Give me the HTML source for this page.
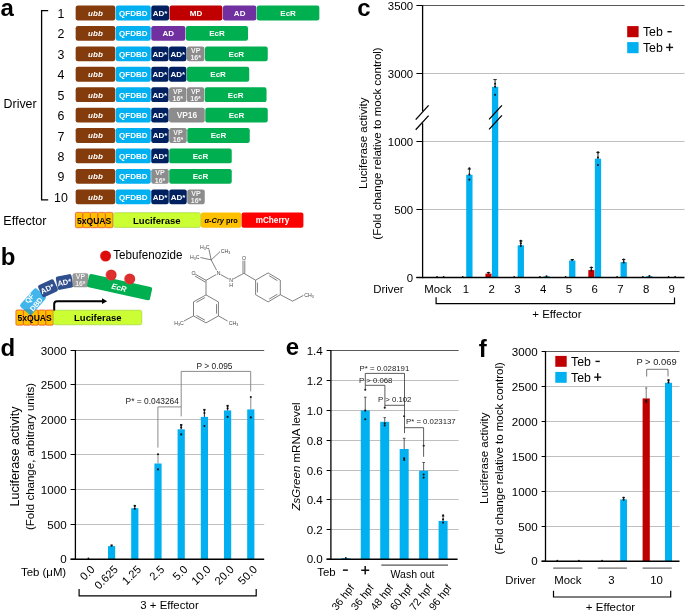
<!DOCTYPE html>
<html><head><meta charset="utf-8"><style>
html,body{margin:0;padding:0;background:#fff;}
svg{display:block;will-change:transform;}
text{font-family:"Liberation Sans", sans-serif;}
</style></head><body>
<svg width="685" height="612" viewBox="0 0 685 612">
<defs><radialGradient id="ballg" cx="0.58" cy="0.5" r="0.6"><stop offset="0" stop-color="#e00a0a"/><stop offset="0.75" stop-color="#dc0c0c"/><stop offset="0.9" stop-color="#e84040"/><stop offset="1" stop-color="#c81818"/></radialGradient><radialGradient id="ballg2" cx="0.58" cy="0.5" r="0.6"><stop offset="0" stop-color="#e03030"/><stop offset="0.75" stop-color="#dc2c2c"/><stop offset="0.9" stop-color="#ea5555"/><stop offset="1" stop-color="#c82020"/></radialGradient></defs>
<rect width="685" height="612" fill="#fff"/>
<text x="0.5" y="16.2" font-size="24" font-weight="bold">a</text>
<path d="M48.2,10.6 H41.6 V199.8 H48.2" stroke="#000" stroke-width="1.3" fill="none"/>
<text x="3.6" y="108.3" font-size="12.4">Driver</text>
<text x="3.3" y="225.2" font-size="12.6">Effector</text>
<text x="61" y="18" font-size="12.4" text-anchor="middle">1</text>
<rect x="75.65" y="5.6" width="39.6" height="14.8" fill="#843C0C" rx="2.2"/>
<text x="95.45" y="15.88" font-size="8" text-anchor="middle" font-weight="bold" font-style="italic" fill="#fff">ubb</text>
<rect x="115.75" y="5.6" width="35" height="14.8" fill="#00B0F0" rx="2.2"/>
<text x="133.25" y="15.88" font-size="8" text-anchor="middle" font-weight="bold" fill="#fff">QFDBD</text>
<rect x="151.25" y="5.6" width="17.8" height="14.8" fill="#002060" rx="2.2"/>
<text x="160.15" y="15.88" font-size="8" text-anchor="middle" font-weight="bold" fill="#fff">AD*</text>
<rect x="169.55" y="5.6" width="52.9" height="14.8" fill="#C00000" rx="2.2"/>
<text x="196" y="15.88" font-size="8" text-anchor="middle" font-weight="bold" fill="#fff">MD</text>
<rect x="222.95" y="5.6" width="33.4" height="14.8" fill="#7030A0" rx="2.2"/>
<text x="239.65" y="15.88" font-size="8" text-anchor="middle" font-weight="bold" fill="#fff">AD</text>
<rect x="256.85" y="5.6" width="62.5" height="14.8" fill="#00B050" rx="2.2"/>
<text x="288.1" y="15.88" font-size="8" text-anchor="middle" font-weight="bold" fill="#fff">EcR</text>
<text x="61" y="38.42" font-size="12.4" text-anchor="middle">2</text>
<rect x="75.65" y="26.02" width="39.6" height="14.8" fill="#843C0C" rx="2.2"/>
<text x="95.45" y="36.3" font-size="8" text-anchor="middle" font-weight="bold" font-style="italic" fill="#fff">ubb</text>
<rect x="115.75" y="26.02" width="35" height="14.8" fill="#00B0F0" rx="2.2"/>
<text x="133.25" y="36.3" font-size="8" text-anchor="middle" font-weight="bold" fill="#fff">QFDBD</text>
<rect x="151.25" y="26.02" width="34.1" height="14.8" fill="#7030A0" rx="2.2"/>
<text x="168.3" y="36.3" font-size="8" text-anchor="middle" font-weight="bold" fill="#fff">AD</text>
<rect x="185.85" y="26.02" width="62.2" height="14.8" fill="#00B050" rx="2.2"/>
<text x="216.95" y="36.3" font-size="8" text-anchor="middle" font-weight="bold" fill="#fff">EcR</text>
<text x="61" y="58.84" font-size="12.4" text-anchor="middle">3</text>
<rect x="75.65" y="46.44" width="39.6" height="14.8" fill="#843C0C" rx="2.2"/>
<text x="95.45" y="56.72" font-size="8" text-anchor="middle" font-weight="bold" font-style="italic" fill="#fff">ubb</text>
<rect x="115.75" y="46.44" width="35" height="14.8" fill="#00B0F0" rx="2.2"/>
<text x="133.25" y="56.72" font-size="8" text-anchor="middle" font-weight="bold" fill="#fff">QFDBD</text>
<rect x="151.25" y="46.44" width="17.3" height="14.8" fill="#002060" rx="2.2"/>
<text x="159.9" y="56.72" font-size="8" text-anchor="middle" font-weight="bold" fill="#fff">AD*</text>
<rect x="169.05" y="46.44" width="17.4" height="14.8" fill="#002060" rx="2.2"/>
<text x="177.75" y="56.72" font-size="8" text-anchor="middle" font-weight="bold" fill="#fff">AD*</text>
<rect x="186.95" y="46.44" width="17.5" height="14.8" fill="#8C8C8C" rx="2.2"/>
<text x="195.7" y="52.94" font-size="7" text-anchor="middle" font-weight="bold" fill="#f4f4f4">VP</text>
<text x="195.7" y="60.04" font-size="7" text-anchor="middle" font-weight="bold" fill="#f4f4f4">16*</text>
<rect x="204.95" y="46.44" width="62.8" height="14.8" fill="#00B050" rx="2.2"/>
<text x="236.35" y="56.72" font-size="8" text-anchor="middle" font-weight="bold" fill="#fff">EcR</text>
<text x="61" y="79.26" font-size="12.4" text-anchor="middle">4</text>
<rect x="75.65" y="66.86" width="39.6" height="14.8" fill="#843C0C" rx="2.2"/>
<text x="95.45" y="77.14" font-size="8" text-anchor="middle" font-weight="bold" font-style="italic" fill="#fff">ubb</text>
<rect x="115.75" y="66.86" width="35" height="14.8" fill="#00B0F0" rx="2.2"/>
<text x="133.25" y="77.14" font-size="8" text-anchor="middle" font-weight="bold" fill="#fff">QFDBD</text>
<rect x="151.25" y="66.86" width="17.3" height="14.8" fill="#002060" rx="2.2"/>
<text x="159.9" y="77.14" font-size="8" text-anchor="middle" font-weight="bold" fill="#fff">AD*</text>
<rect x="169.05" y="66.86" width="17.4" height="14.8" fill="#002060" rx="2.2"/>
<text x="177.75" y="77.14" font-size="8" text-anchor="middle" font-weight="bold" fill="#fff">AD*</text>
<rect x="186.95" y="66.86" width="62.3" height="14.8" fill="#00B050" rx="2.2"/>
<text x="218.1" y="77.14" font-size="8" text-anchor="middle" font-weight="bold" fill="#fff">EcR</text>
<text x="61" y="99.68" font-size="12.4" text-anchor="middle">5</text>
<rect x="75.65" y="87.28" width="39.6" height="14.8" fill="#843C0C" rx="2.2"/>
<text x="95.45" y="97.56" font-size="8" text-anchor="middle" font-weight="bold" font-style="italic" fill="#fff">ubb</text>
<rect x="115.75" y="87.28" width="35" height="14.8" fill="#00B0F0" rx="2.2"/>
<text x="133.25" y="97.56" font-size="8" text-anchor="middle" font-weight="bold" fill="#fff">QFDBD</text>
<rect x="151.25" y="87.28" width="17.3" height="14.8" fill="#002060" rx="2.2"/>
<text x="159.9" y="97.56" font-size="8" text-anchor="middle" font-weight="bold" fill="#fff">AD*</text>
<rect x="169.05" y="87.28" width="17.4" height="14.8" fill="#8C8C8C" rx="2.2"/>
<text x="177.75" y="93.78" font-size="7" text-anchor="middle" font-weight="bold" fill="#f4f4f4">VP</text>
<text x="177.75" y="100.88" font-size="7" text-anchor="middle" font-weight="bold" fill="#f4f4f4">16*</text>
<rect x="186.95" y="87.28" width="17.3" height="14.8" fill="#8C8C8C" rx="2.2"/>
<text x="195.6" y="93.78" font-size="7" text-anchor="middle" font-weight="bold" fill="#f4f4f4">VP</text>
<text x="195.6" y="100.88" font-size="7" text-anchor="middle" font-weight="bold" fill="#f4f4f4">16*</text>
<rect x="204.75" y="87.28" width="61.8" height="14.8" fill="#00B050" rx="2.2"/>
<text x="235.65" y="97.56" font-size="8" text-anchor="middle" font-weight="bold" fill="#fff">EcR</text>
<text x="61" y="120.1" font-size="12.4" text-anchor="middle">6</text>
<rect x="75.65" y="107.7" width="39.6" height="14.8" fill="#843C0C" rx="2.2"/>
<text x="95.45" y="117.98" font-size="8" text-anchor="middle" font-weight="bold" font-style="italic" fill="#fff">ubb</text>
<rect x="115.75" y="107.7" width="35" height="14.8" fill="#00B0F0" rx="2.2"/>
<text x="133.25" y="117.98" font-size="8" text-anchor="middle" font-weight="bold" fill="#fff">QFDBD</text>
<rect x="151.25" y="107.7" width="17.3" height="14.8" fill="#002060" rx="2.2"/>
<text x="159.9" y="117.98" font-size="8" text-anchor="middle" font-weight="bold" fill="#fff">AD*</text>
<rect x="169.05" y="107.7" width="35.7" height="14.8" fill="#8C8C8C" rx="2.2"/>
<text x="186.9" y="118.12" font-size="8.4" text-anchor="middle" font-weight="bold" fill="#f8f8f8">VP16</text>
<rect x="205.25" y="107.7" width="62.5" height="14.8" fill="#00B050" rx="2.2"/>
<text x="236.5" y="117.98" font-size="8" text-anchor="middle" font-weight="bold" fill="#fff">EcR</text>
<text x="61" y="140.52" font-size="12.4" text-anchor="middle">7</text>
<rect x="75.65" y="128.12" width="39.6" height="14.8" fill="#843C0C" rx="2.2"/>
<text x="95.45" y="138.4" font-size="8" text-anchor="middle" font-weight="bold" font-style="italic" fill="#fff">ubb</text>
<rect x="115.75" y="128.12" width="35" height="14.8" fill="#00B0F0" rx="2.2"/>
<text x="133.25" y="138.4" font-size="8" text-anchor="middle" font-weight="bold" fill="#fff">QFDBD</text>
<rect x="151.25" y="128.12" width="17.5" height="14.8" fill="#002060" rx="2.2"/>
<text x="160" y="138.4" font-size="8" text-anchor="middle" font-weight="bold" fill="#fff">AD*</text>
<rect x="169.25" y="128.12" width="17.5" height="14.8" fill="#8C8C8C" rx="2.2"/>
<text x="178" y="134.62" font-size="7" text-anchor="middle" font-weight="bold" fill="#f4f4f4">VP</text>
<text x="178" y="141.72" font-size="7" text-anchor="middle" font-weight="bold" fill="#f4f4f4">16*</text>
<rect x="187.25" y="128.12" width="62.5" height="14.8" fill="#00B050" rx="2.2"/>
<text x="218.5" y="138.4" font-size="8" text-anchor="middle" font-weight="bold" fill="#fff">EcR</text>
<text x="61" y="160.94" font-size="12.4" text-anchor="middle">8</text>
<rect x="75.65" y="148.54" width="39.6" height="14.8" fill="#843C0C" rx="2.2"/>
<text x="95.45" y="158.82" font-size="8" text-anchor="middle" font-weight="bold" font-style="italic" fill="#fff">ubb</text>
<rect x="115.75" y="148.54" width="35" height="14.8" fill="#00B0F0" rx="2.2"/>
<text x="133.25" y="158.82" font-size="8" text-anchor="middle" font-weight="bold" fill="#fff">QFDBD</text>
<rect x="151.25" y="148.54" width="17.5" height="14.8" fill="#002060" rx="2.2"/>
<text x="160" y="158.82" font-size="8" text-anchor="middle" font-weight="bold" fill="#fff">AD*</text>
<rect x="169.25" y="148.54" width="62.5" height="14.8" fill="#00B050" rx="2.2"/>
<text x="200.5" y="158.82" font-size="8" text-anchor="middle" font-weight="bold" fill="#fff">EcR</text>
<text x="61" y="181.36" font-size="12.4" text-anchor="middle">9</text>
<rect x="75.65" y="168.96" width="39.6" height="14.8" fill="#843C0C" rx="2.2"/>
<text x="95.45" y="179.24" font-size="8" text-anchor="middle" font-weight="bold" font-style="italic" fill="#fff">ubb</text>
<rect x="115.75" y="168.96" width="35" height="14.8" fill="#00B0F0" rx="2.2"/>
<text x="133.25" y="179.24" font-size="8" text-anchor="middle" font-weight="bold" fill="#fff">QFDBD</text>
<rect x="151.25" y="168.96" width="17.5" height="14.8" fill="#8C8C8C" rx="2.2"/>
<text x="160" y="175.46" font-size="7" text-anchor="middle" font-weight="bold" fill="#f4f4f4">VP</text>
<text x="160" y="182.56" font-size="7" text-anchor="middle" font-weight="bold" fill="#f4f4f4">16*</text>
<rect x="169.25" y="168.96" width="62.5" height="14.8" fill="#00B050" rx="2.2"/>
<text x="200.5" y="179.24" font-size="8" text-anchor="middle" font-weight="bold" fill="#fff">EcR</text>
<text x="61" y="201.78" font-size="12.4" text-anchor="middle">10</text>
<rect x="75.65" y="189.38" width="39.6" height="14.8" fill="#843C0C" rx="2.2"/>
<text x="95.45" y="199.66" font-size="8" text-anchor="middle" font-weight="bold" font-style="italic" fill="#fff">ubb</text>
<rect x="115.75" y="189.38" width="35" height="14.8" fill="#00B0F0" rx="2.2"/>
<text x="133.25" y="199.66" font-size="8" text-anchor="middle" font-weight="bold" fill="#fff">QFDBD</text>
<rect x="151.25" y="189.38" width="17.5" height="14.8" fill="#002060" rx="2.2"/>
<text x="160" y="199.66" font-size="8" text-anchor="middle" font-weight="bold" fill="#fff">AD*</text>
<rect x="169.25" y="189.38" width="17.5" height="14.8" fill="#002060" rx="2.2"/>
<text x="178" y="199.66" font-size="8" text-anchor="middle" font-weight="bold" fill="#fff">AD*</text>
<rect x="187.25" y="189.38" width="17.5" height="14.8" fill="#8C8C8C" rx="2.2"/>
<text x="196" y="195.88" font-size="7" text-anchor="middle" font-weight="bold" fill="#f4f4f4">VP</text>
<text x="196" y="202.98" font-size="7" text-anchor="middle" font-weight="bold" fill="#f4f4f4">16*</text>
<rect x="75.4" y="212.4" width="7.5" height="15.3" fill="#FFC000" rx="1.2" stroke="#E4472F" stroke-width="0.7"/>
<rect x="82.9" y="212.4" width="7.5" height="15.3" fill="#FFC000" rx="1.2" stroke="#E4472F" stroke-width="0.7"/>
<rect x="90.4" y="212.4" width="7.5" height="15.3" fill="#FFC000" rx="1.2" stroke="#E4472F" stroke-width="0.7"/>
<rect x="97.9" y="212.4" width="7.5" height="15.3" fill="#FFC000" rx="1.2" stroke="#E4472F" stroke-width="0.7"/>
<rect x="105.4" y="212.4" width="7.5" height="15.3" fill="#FFC000" rx="1.2" stroke="#E4472F" stroke-width="0.7"/>
<text x="94.1" y="223.8" font-size="8.6" text-anchor="middle" font-weight="bold">5xQUAS</text>
<rect x="113.4" y="212.7" width="87.2" height="14.7" fill="#CCFF33" rx="2" stroke="#9ACD32" stroke-width="0.6"/>
<text x="156.8" y="223.7" font-size="9.5" text-anchor="middle" font-weight="bold">Luciferase</text>
<rect x="201" y="212.4" width="40.3" height="15.3" fill="#FFC000" rx="2"/>
<text x="221.2" y="222.8" font-size="7.4" text-anchor="middle" font-weight="bold"><tspan font-style="italic">&#945;-Cry</tspan> pro</text>
<rect x="241.6" y="212.4" width="61.8" height="15.3" fill="#FF0000" rx="2"/>
<text x="272.5" y="223" font-size="8.2" text-anchor="middle" font-weight="bold" fill="#fff">mCherry</text>
<text x="0.8" y="264.6" font-size="24" font-weight="bold">b</text>
<rect x="15.9" y="310" width="7.48" height="15.2" fill="#FFC000" rx="1.2" stroke="#E4472F" stroke-width="0.7"/>
<rect x="23.38" y="310" width="7.48" height="15.2" fill="#FFC000" rx="1.2" stroke="#E4472F" stroke-width="0.7"/>
<rect x="30.86" y="310" width="7.48" height="15.2" fill="#FFC000" rx="1.2" stroke="#E4472F" stroke-width="0.7"/>
<rect x="38.34" y="310" width="7.48" height="15.2" fill="#FFC000" rx="1.2" stroke="#E4472F" stroke-width="0.7"/>
<rect x="45.82" y="310" width="7.48" height="15.2" fill="#FFC000" rx="1.2" stroke="#E4472F" stroke-width="0.7"/>
<rect x="53.4" y="310.2" width="88.4" height="14.6" fill="#CCFF33" rx="2" stroke="#9ACD32" stroke-width="0.6"/>
<text x="97.8" y="321.1" font-size="9.5" text-anchor="middle" font-weight="bold">Luciferase</text>
<rect x="20.8" y="294" width="24.4" height="15.2" rx="2.2" fill="#009CE5" transform="rotate(-48.5 33 301.6)" fill-opacity="0.74"/>
<text x="0" y="2.59" font-size="7.2" text-anchor="middle" font-weight="bold" fill="#fff" transform="translate(29.4 298.2) rotate(-50)">QF</text>
<text x="0" y="2.59" font-size="7.2" text-anchor="middle" font-weight="bold" fill="#fff" transform="translate(36.2 304.2) rotate(-50)">DBD</text>
<text x="34.6" y="320.6" font-size="8.6" text-anchor="middle" font-weight="bold">5xQUAS</text>
<rect x="39.4" y="281.7" width="17.2" height="13.2" rx="2" fill="#2F4F8F" transform="rotate(-25 48 288.3)"/>
<text x="48.3" y="291.2" font-size="7.6" text-anchor="middle" font-weight="bold" fill="#fff" transform="rotate(-25 48.3 291.2)">AD*</text>
<rect x="56.6" y="275.2" width="16" height="13.6" rx="2" fill="#2F4F8F" transform="rotate(-11 64.6 282)"/>
<text x="64.8" y="285" font-size="7.6" text-anchor="middle" font-weight="bold" fill="#fff" transform="rotate(-11 64.8 285)">AD*</text>
<rect x="72.5" y="273.2" width="15.8" height="14" rx="2" fill="#9A9A9A" transform="rotate(0 80.4 280.2)"/>
<text x="80.4" y="279" font-size="6.8" text-anchor="middle" font-weight="bold" fill="#eee">VP</text>
<text x="80.4" y="285.8" font-size="6.8" text-anchor="middle" font-weight="bold" fill="#eee">16*</text>
<rect x="87.4" y="280.3" width="64.4" height="13.6" rx="2" fill="#00B050" transform="rotate(12.4 119.6 287.1)"/>
<text x="0" y="2.81" font-size="7.8" text-anchor="middle" font-weight="bold" font-style="italic" fill="#fff" transform="translate(118.9 287.5) rotate(13)">EcR</text>
<path d="M54.2,310.5 V304 Q54.2,301.2 57,301.2 H102.5" stroke="#000" stroke-width="2" fill="none"/>
<path d="M102,298.3 L107.2,301.2 L102,304.1 Z" stroke="#000" stroke-width="0" fill="#000"/>
<circle cx="105.5" cy="256" r="5.5" fill="url(#ballg)"/>
<circle cx="111.1" cy="275" r="5.5" fill="url(#ballg2)"/>
<circle cx="129.7" cy="278.9" r="5.5" fill="url(#ballg2)"/>
<text x="113.3" y="259.4" font-size="12" textLength="69.2" lengthAdjust="spacingAndGlyphs">Tebufenozide</text>
<line x1="211.2" y1="259.9" x2="208.9" y2="249.2" stroke="#555" stroke-width="0.75"/>
<line x1="211.2" y1="259.9" x2="220" y2="251.7" stroke="#555" stroke-width="0.75"/>
<line x1="211.2" y1="259.9" x2="200.4" y2="257.5" stroke="#555" stroke-width="0.75"/>
<text x="204.8" y="248.6" font-size="5.2" text-anchor="middle" fill="#444">H<tspan font-size="3.6" dy="1">3</tspan><tspan dy="-1">C</tspan></text>
<text x="225.5" y="252.7" font-size="5.2" text-anchor="middle" fill="#444">CH<tspan font-size="3.6" dy="1">3</tspan></text>
<text x="194.8" y="259" font-size="5.2" text-anchor="middle" fill="#444">H<tspan font-size="3.6" dy="1">3</tspan><tspan dy="-1">C</tspan></text>
<line x1="211.2" y1="259.9" x2="216.6" y2="270.3" stroke="#555" stroke-width="0.75"/>
<text x="218.6" y="275.3" font-size="5.2" text-anchor="middle" fill="#444">N</text>
<line x1="216.2" y1="274.6" x2="206" y2="280.3" stroke="#555" stroke-width="0.75"/>
<line x1="206" y1="280.3" x2="195.3" y2="274.2" stroke="#555" stroke-width="0.75"/>
<line x1="205.4" y1="282.1" x2="195" y2="276.1" stroke="#555" stroke-width="0.75"/>
<text x="193.5" y="274.9" font-size="5.2" text-anchor="middle" fill="#444">O</text>
<line x1="206" y1="280.3" x2="206" y2="294.9" stroke="#555" stroke-width="0.75"/>
<line x1="206" y1="294.9" x2="218.4" y2="301.9" stroke="#555" stroke-width="0.75"/>
<line x1="218.4" y1="301.9" x2="218.4" y2="315.9" stroke="#555" stroke-width="0.75"/>
<line x1="218.4" y1="315.9" x2="206" y2="322.9" stroke="#555" stroke-width="0.75"/>
<line x1="206" y1="322.9" x2="193.5" y2="315.9" stroke="#555" stroke-width="0.75"/>
<line x1="193.5" y1="315.9" x2="193.5" y2="301.9" stroke="#555" stroke-width="0.75"/>
<line x1="193.5" y1="301.9" x2="206" y2="294.9" stroke="#555" stroke-width="0.75"/>
<line x1="196.44" y1="302.36" x2="204.94" y2="297.6" stroke="#555" stroke-width="0.75"/>
<line x1="216.54" y1="304.14" x2="216.54" y2="313.66" stroke="#555" stroke-width="0.75"/>
<line x1="204.94" y1="320.2" x2="196.44" y2="315.44" stroke="#555" stroke-width="0.75"/>
<line x1="193.5" y1="315.9" x2="184" y2="321" stroke="#555" stroke-width="0.75"/>
<text x="179" y="324.6" font-size="5.2" text-anchor="middle" fill="#444">H<tspan font-size="3.6" dy="1">3</tspan><tspan dy="-1">C</tspan></text>
<line x1="218.4" y1="315.9" x2="227.6" y2="321" stroke="#555" stroke-width="0.75"/>
<text x="233.6" y="324.8" font-size="5.2" text-anchor="middle" fill="#444">CH<tspan font-size="3.6" dy="1">3</tspan></text>
<line x1="220.6" y1="274.6" x2="228.8" y2="279" stroke="#555" stroke-width="0.75"/>
<text x="231" y="282.4" font-size="5.2" text-anchor="middle" fill="#444">N</text>
<text x="231" y="287.4" font-size="5.2" text-anchor="middle" fill="#444">H</text>
<line x1="233.2" y1="279" x2="243.9" y2="273.3" stroke="#555" stroke-width="0.75"/>
<line x1="243" y1="273.3" x2="243" y2="260.6" stroke="#555" stroke-width="0.75"/>
<line x1="244.8" y1="273.3" x2="244.8" y2="260.6" stroke="#555" stroke-width="0.75"/>
<text x="243.9" y="260.4" font-size="5.2" text-anchor="middle" fill="#444">O</text>
<line x1="243.9" y1="273.3" x2="255.6" y2="280.2" stroke="#555" stroke-width="0.75"/>
<line x1="268.1" y1="272.9" x2="280.3" y2="280.2" stroke="#555" stroke-width="0.75"/>
<line x1="280.3" y1="280.2" x2="280.3" y2="294.7" stroke="#555" stroke-width="0.75"/>
<line x1="280.3" y1="294.7" x2="268.1" y2="301.9" stroke="#555" stroke-width="0.75"/>
<line x1="268.1" y1="301.9" x2="255.6" y2="294.7" stroke="#555" stroke-width="0.75"/>
<line x1="255.6" y1="294.7" x2="255.6" y2="280.2" stroke="#555" stroke-width="0.75"/>
<line x1="255.6" y1="280.2" x2="268.1" y2="272.9" stroke="#555" stroke-width="0.75"/>
<line x1="269.11" y1="275.7" x2="277.41" y2="280.66" stroke="#555" stroke-width="0.75"/>
<line x1="277.41" y1="294.22" x2="269.11" y2="299.11" stroke="#555" stroke-width="0.75"/>
<line x1="257.45" y1="292.37" x2="257.45" y2="282.51" stroke="#555" stroke-width="0.75"/>
<line x1="280.3" y1="294.7" x2="292.6" y2="301.2" stroke="#555" stroke-width="0.75"/>
<line x1="292.6" y1="301.2" x2="303.4" y2="295.4" stroke="#555" stroke-width="0.75"/>
<text x="309" y="296.9" font-size="5.2" text-anchor="middle" fill="#444">CH<tspan font-size="3.6" dy="1">3</tspan></text>
<text x="357.2" y="16.2" font-size="24" font-weight="bold">c</text>
<line x1="422.6" y1="73.5" x2="684.5" y2="73.5" stroke="#BFBFBF" stroke-width="1"/>
<line x1="422.6" y1="141.5" x2="684.5" y2="141.5" stroke="#BFBFBF" stroke-width="1"/>
<line x1="422.6" y1="209.5" x2="684.5" y2="209.5" stroke="#BFBFBF" stroke-width="1"/>
<line x1="422.6" y1="5.5" x2="684.5" y2="5.5" stroke="#595959" stroke-width="1"/>
<line x1="416.4" y1="5.5" x2="422.6" y2="5.5" stroke="#000" stroke-width="1"/>
<text x="413.2" y="9.6" font-size="11.4" text-anchor="end">3500</text>
<line x1="416.4" y1="73.5" x2="422.6" y2="73.5" stroke="#000" stroke-width="1"/>
<text x="413.2" y="77.6" font-size="11.4" text-anchor="end">3000</text>
<line x1="416.4" y1="141.5" x2="422.6" y2="141.5" stroke="#000" stroke-width="1"/>
<text x="413.2" y="145.6" font-size="11.4" text-anchor="end">1000</text>
<line x1="416.4" y1="209.5" x2="422.6" y2="209.5" stroke="#000" stroke-width="1"/>
<text x="413.2" y="213.6" font-size="11.4" text-anchor="end">500</text>
<line x1="416.4" y1="277.5" x2="422.6" y2="277.5" stroke="#000" stroke-width="1"/>
<text x="413.2" y="281.6" font-size="11.4" text-anchor="end">0</text>
<line x1="422.6" y1="5.2" x2="422.6" y2="111.4" stroke="#000" stroke-width="1.3"/>
<line x1="422.6" y1="123.2" x2="422.6" y2="278.2" stroke="#000" stroke-width="1.3"/>
<line x1="415.7" y1="119.6" x2="428.6" y2="105.4" stroke="#000" stroke-width="1.3"/>
<line x1="415.7" y1="129.7" x2="428.6" y2="115.6" stroke="#000" stroke-width="1.3"/>
<rect x="466.22" y="174.8" width="6.3" height="102.7" fill="#00B0F0"/>
<rect x="485.44" y="273.6" width="6.1" height="3.9" fill="#C00000"/>
<rect x="491.94" y="86.9" width="6.3" height="190.6" fill="#00B0F0"/>
<rect x="517.66" y="245.3" width="6.3" height="32.2" fill="#00B0F0"/>
<rect x="543.38" y="276.3" width="6.3" height="1.2" fill="#00B0F0"/>
<rect x="569.1" y="260.5" width="6.3" height="17" fill="#00B0F0"/>
<rect x="588.32" y="270.1" width="6.1" height="7.4" fill="#C00000"/>
<rect x="594.82" y="158.7" width="6.3" height="118.8" fill="#00B0F0"/>
<rect x="620.54" y="262.1" width="6.3" height="15.4" fill="#00B0F0"/>
<rect x="646.26" y="276.2" width="6.3" height="1.3" fill="#00B0F0"/>
<line x1="489.1" y1="119.4" x2="501.9" y2="105.4" stroke="#000" stroke-width="1.3"/>
<line x1="489.1" y1="129.4" x2="501.9" y2="115.4" stroke="#000" stroke-width="1.3"/>
<line x1="469.37" y1="174.8" x2="469.37" y2="169.1" stroke="#111" stroke-width="0.9"/>
<line x1="467.67" y1="169.1" x2="471.07" y2="169.1" stroke="#111" stroke-width="0.9"/>
<circle cx="469.37" cy="168.3" r="1.05" fill="#111"/>
<circle cx="469.37" cy="179.6" r="1.05" fill="#111"/>
<circle cx="469.37" cy="174.6" r="1.05" fill="#111"/>
<line x1="495.09" y1="86.9" x2="495.09" y2="79.6" stroke="#111" stroke-width="0.9"/>
<line x1="493.39" y1="79.6" x2="496.79" y2="79.6" stroke="#111" stroke-width="0.9"/>
<circle cx="495.09" cy="83.7" r="1.05" fill="#111"/>
<circle cx="495.09" cy="94.8" r="1.05" fill="#111"/>
<circle cx="495.09" cy="86.8" r="1.05" fill="#111"/>
<line x1="520.81" y1="245.3" x2="520.81" y2="241" stroke="#111" stroke-width="0.9"/>
<line x1="519.11" y1="241" x2="522.51" y2="241" stroke="#111" stroke-width="0.9"/>
<circle cx="520.81" cy="240.9" r="1.05" fill="#111"/>
<circle cx="520.81" cy="243.4" r="1.05" fill="#111"/>
<circle cx="520.81" cy="246" r="1.05" fill="#111"/>
<line x1="572.25" y1="260.5" x2="572.25" y2="259.5" stroke="#111" stroke-width="0.9"/>
<line x1="570.55" y1="259.5" x2="573.95" y2="259.5" stroke="#111" stroke-width="0.9"/>
<circle cx="572.25" cy="260" r="1.05" fill="#111"/>
<line x1="597.97" y1="158.7" x2="597.97" y2="152.4" stroke="#111" stroke-width="0.9"/>
<line x1="596.27" y1="152.4" x2="599.67" y2="152.4" stroke="#111" stroke-width="0.9"/>
<circle cx="597.97" cy="152.4" r="1.05" fill="#111"/>
<circle cx="597.97" cy="157.6" r="1.05" fill="#111"/>
<circle cx="597.97" cy="165" r="1.05" fill="#111"/>
<line x1="623.69" y1="262.1" x2="623.69" y2="259.5" stroke="#111" stroke-width="0.9"/>
<line x1="621.99" y1="259.5" x2="625.39" y2="259.5" stroke="#111" stroke-width="0.9"/>
<circle cx="623.69" cy="259.6" r="1.05" fill="#111"/>
<circle cx="623.69" cy="262.4" r="1.05" fill="#111"/>
<line x1="591.37" y1="270.1" x2="591.37" y2="267.5" stroke="#111" stroke-width="0.9"/>
<line x1="589.67" y1="267.5" x2="593.07" y2="267.5" stroke="#111" stroke-width="0.9"/>
<circle cx="591.37" cy="267.6" r="1.05" fill="#111"/>
<circle cx="591.37" cy="270.4" r="1.05" fill="#111"/>
<line x1="488.49" y1="273.6" x2="488.49" y2="272.6" stroke="#111" stroke-width="0.9"/>
<line x1="486.79" y1="272.6" x2="490.19" y2="272.6" stroke="#111" stroke-width="0.9"/>
<circle cx="488.49" cy="272.8" r="1.05" fill="#111"/>
<circle cx="546.53" cy="276.2" r="1.05" fill="#111"/>
<circle cx="649.41" cy="276" r="1.05" fill="#111"/>
<circle cx="437.05" cy="277" r="0.9" fill="#111"/>
<circle cx="462.77" cy="277" r="0.9" fill="#111"/>
<circle cx="514.21" cy="277" r="0.9" fill="#111"/>
<circle cx="539.93" cy="277" r="0.9" fill="#111"/>
<circle cx="565.65" cy="277" r="0.9" fill="#111"/>
<circle cx="617.09" cy="277" r="0.9" fill="#111"/>
<circle cx="642.81" cy="277" r="0.9" fill="#111"/>
<circle cx="668.53" cy="277" r="0.9" fill="#111"/>
<circle cx="443.65" cy="277" r="0.9" fill="#111"/>
<circle cx="675.13" cy="277" r="0.9" fill="#111"/>
<line x1="416.4" y1="277.5" x2="684.5" y2="277.5" stroke="#000" stroke-width="1.4"/>
<text x="437.8" y="292.6" font-size="11.4" text-anchor="middle">Mock</text>
<text x="466.02" y="292.6" font-size="11.4" text-anchor="middle">1</text>
<text x="491.74" y="292.6" font-size="11.4" text-anchor="middle">2</text>
<text x="517.46" y="292.6" font-size="11.4" text-anchor="middle">3</text>
<text x="543.18" y="292.6" font-size="11.4" text-anchor="middle">4</text>
<text x="568.9" y="292.6" font-size="11.4" text-anchor="middle">5</text>
<text x="594.62" y="292.6" font-size="11.4" text-anchor="middle">6</text>
<text x="620.34" y="292.6" font-size="11.4" text-anchor="middle">7</text>
<text x="646.06" y="292.6" font-size="11.4" text-anchor="middle">8</text>
<text x="671.78" y="292.6" font-size="11.4" text-anchor="middle">9</text>
<text x="403.6" y="292.6" font-size="11.4" text-anchor="end">Driver</text>
<path d="M436.1,297.2 V303.6 H674.5 V297.4" stroke="#000" stroke-width="1.2" fill="none"/>
<text x="556.9" y="317.5" font-size="11.5" text-anchor="middle">+ Effector</text>
<rect x="627.2" y="26.1" width="11.4" height="11.1" fill="#C00000"/>
<rect x="627.2" y="42.1" width="11.4" height="11.1" fill="#00B0F0"/>
<text x="642.9" y="36.4" font-size="12.3">Teb</text>
<text x="642.9" y="51.8" font-size="12.3">Teb</text>
<rect x="667.4" y="31" width="4.3" height="1.4" fill="#111"/>
<rect x="666.1" y="46.7" width="7" height="1.4" fill="#111"/>
<rect x="668.9" y="43.4" width="1.4" height="7.7" fill="#111"/>
<text x="367.3" y="143.3" font-size="11.5" text-anchor="middle" transform="rotate(-90 367.3 143.3)">Luciferase activity</text>
<text x="381" y="143.5" font-size="11.5" text-anchor="middle" transform="rotate(-90 381 143.5)">(Fold change relative to mock control)</text>
<text x="0.4" y="355.6" font-size="24" font-weight="bold">d</text>
<line x1="75.4" y1="524.5" x2="264.2" y2="524.5" stroke="#BFBFBF" stroke-width="1"/>
<line x1="75.4" y1="489.5" x2="264.2" y2="489.5" stroke="#BFBFBF" stroke-width="1"/>
<line x1="75.4" y1="454.5" x2="264.2" y2="454.5" stroke="#BFBFBF" stroke-width="1"/>
<line x1="75.4" y1="419.5" x2="264.2" y2="419.5" stroke="#BFBFBF" stroke-width="1"/>
<line x1="75.4" y1="384.5" x2="264.2" y2="384.5" stroke="#BFBFBF" stroke-width="1"/>
<line x1="75.4" y1="350.5" x2="264.2" y2="350.5" stroke="#595959" stroke-width="1"/>
<line x1="70.6" y1="559.2" x2="75.4" y2="559.2" stroke="#000" stroke-width="1"/>
<text x="66.6" y="563.3" font-size="11.6" text-anchor="end">0</text>
<line x1="70.6" y1="524.5" x2="75.4" y2="524.5" stroke="#000" stroke-width="1"/>
<text x="66.6" y="528.6" font-size="11.6" text-anchor="end">500</text>
<line x1="70.6" y1="489.5" x2="75.4" y2="489.5" stroke="#000" stroke-width="1"/>
<text x="66.6" y="493.6" font-size="11.6" text-anchor="end">1000</text>
<line x1="70.6" y1="454.5" x2="75.4" y2="454.5" stroke="#000" stroke-width="1"/>
<text x="66.6" y="458.6" font-size="11.6" text-anchor="end">1500</text>
<line x1="70.6" y1="419.5" x2="75.4" y2="419.5" stroke="#000" stroke-width="1"/>
<text x="66.6" y="423.6" font-size="11.6" text-anchor="end">2000</text>
<line x1="70.6" y1="384.5" x2="75.4" y2="384.5" stroke="#000" stroke-width="1"/>
<text x="66.6" y="388.6" font-size="11.6" text-anchor="end">2500</text>
<line x1="70.6" y1="350.5" x2="75.4" y2="350.5" stroke="#000" stroke-width="1"/>
<text x="66.6" y="354.6" font-size="11.6" text-anchor="end">3000</text>
<line x1="75.4" y1="350" x2="75.4" y2="559.9" stroke="#000" stroke-width="1.3"/>
<rect x="108" y="546.1" width="7.2" height="13.1" fill="#00B0F0"/>
<rect x="131.2" y="508.2" width="7.2" height="51" fill="#00B0F0"/>
<rect x="154.4" y="463.5" width="7.2" height="95.7" fill="#00B0F0"/>
<rect x="177.6" y="429.3" width="7.2" height="129.9" fill="#00B0F0"/>
<rect x="200.8" y="416.9" width="7.2" height="142.3" fill="#00B0F0"/>
<rect x="224" y="410.4" width="7.2" height="148.8" fill="#00B0F0"/>
<rect x="247.2" y="409.4" width="7.2" height="149.8" fill="#00B0F0"/>
<line x1="111.6" y1="546.1" x2="111.6" y2="545" stroke="#111" stroke-width="0.9"/>
<line x1="110.4" y1="545" x2="112.8" y2="545" stroke="#111" stroke-width="0.9"/>
<circle cx="111.6" cy="545.7" r="1.05" fill="#111"/>
<line x1="134.8" y1="508.2" x2="134.8" y2="505.7" stroke="#111" stroke-width="0.9"/>
<line x1="133.6" y1="505.7" x2="136" y2="505.7" stroke="#111" stroke-width="0.9"/>
<circle cx="134.8" cy="505.9" r="1.05" fill="#111"/>
<circle cx="134.8" cy="508.8" r="1.05" fill="#111"/>
<line x1="158" y1="463.5" x2="158" y2="454.3" stroke="#7F7F7F" stroke-width="0.9"/>
<circle cx="158" cy="454.3" r="1.05" fill="#111"/>
<circle cx="158" cy="469.4" r="1.05" fill="#111"/>
<line x1="181.2" y1="429.3" x2="181.2" y2="424.6" stroke="#111" stroke-width="0.9"/>
<line x1="180" y1="424.6" x2="182.4" y2="424.6" stroke="#111" stroke-width="0.9"/>
<circle cx="181.2" cy="425.4" r="1.05" fill="#111"/>
<circle cx="181.2" cy="427.6" r="1.05" fill="#111"/>
<circle cx="181.2" cy="434.4" r="1.05" fill="#111"/>
<line x1="204.4" y1="416.9" x2="204.4" y2="409.4" stroke="#111" stroke-width="0.9"/>
<line x1="203.2" y1="409.4" x2="205.6" y2="409.4" stroke="#111" stroke-width="0.9"/>
<circle cx="204.4" cy="410.2" r="1.05" fill="#111"/>
<circle cx="204.4" cy="413" r="1.05" fill="#111"/>
<circle cx="204.4" cy="426" r="1.05" fill="#111"/>
<line x1="227.6" y1="410.4" x2="227.6" y2="405.4" stroke="#111" stroke-width="0.9"/>
<line x1="226.4" y1="405.4" x2="228.8" y2="405.4" stroke="#111" stroke-width="0.9"/>
<circle cx="227.6" cy="406.2" r="1.05" fill="#111"/>
<circle cx="227.6" cy="408.4" r="1.05" fill="#111"/>
<circle cx="227.6" cy="416.9" r="1.05" fill="#111"/>
<line x1="250.8" y1="409.4" x2="250.8" y2="397.2" stroke="#7F7F7F" stroke-width="0.9"/>
<circle cx="250.8" cy="397" r="1.05" fill="#111"/>
<circle cx="250.8" cy="417.4" r="1.05" fill="#111"/>
<circle cx="88.4" cy="558.4" r="0.9" fill="#111"/>
<line x1="70.6" y1="559.2" x2="264.2" y2="559.2" stroke="#000" stroke-width="1.4"/>
<path d="M157.9,447.6 V406.9 H181.2 V416.4" stroke="#7F7F7F" stroke-width="0.9" fill="none"/>
<path d="M181.2,406.9 V371.4 H250.7 V391.4" stroke="#7F7F7F" stroke-width="0.9" fill="none"/>
<text x="125.6" y="404" font-size="8.4" fill="#222">P* = 0.043264</text>
<text x="196.6" y="369" font-size="8.4" fill="#222">P &gt; 0.095</text>
<text x="95.5" y="570.1" font-size="11.2" text-anchor="end" transform="rotate(-45 95.5 570.1)">0.0</text>
<text x="118.7" y="570.1" font-size="11.2" text-anchor="end" transform="rotate(-45 118.7 570.1)">0.625</text>
<text x="141.9" y="570.1" font-size="11.2" text-anchor="end" transform="rotate(-45 141.9 570.1)">1.25</text>
<text x="165.1" y="570.1" font-size="11.2" text-anchor="end" transform="rotate(-45 165.1 570.1)">2.5</text>
<text x="188.3" y="570.1" font-size="11.2" text-anchor="end" transform="rotate(-45 188.3 570.1)">5.0</text>
<text x="211.5" y="570.1" font-size="11.2" text-anchor="end" transform="rotate(-45 211.5 570.1)">10.0</text>
<text x="234.7" y="570.1" font-size="11.2" text-anchor="end" transform="rotate(-45 234.7 570.1)">20.0</text>
<text x="257.9" y="570.1" font-size="11.2" text-anchor="end" transform="rotate(-45 257.9 570.1)">50.0</text>
<text x="21" y="576.3" font-size="11.4">Teb (&#956;M)</text>
<path d="M79.1,589.0 V595.9 H256.2 V589.0" stroke="#000" stroke-width="1.2" fill="none"/>
<text x="169.5" y="609.1" font-size="11.4" text-anchor="middle">3 + Effector</text>
<text x="19.1" y="456.5" font-size="12.6" text-anchor="middle" transform="rotate(-90 19.1 456.5)">Luciferase activity</text>
<text x="34.4" y="456.5" font-size="11.5" text-anchor="middle" transform="rotate(-90 34.4 456.5)">(Fold change, arbitrary units)</text>
<text x="285.8" y="355.4" font-size="24" font-weight="bold">e</text>
<line x1="330.9" y1="529.5" x2="458.6" y2="529.5" stroke="#BFBFBF" stroke-width="1"/>
<line x1="330.9" y1="499.5" x2="458.6" y2="499.5" stroke="#BFBFBF" stroke-width="1"/>
<line x1="330.9" y1="470.5" x2="458.6" y2="470.5" stroke="#BFBFBF" stroke-width="1"/>
<line x1="330.9" y1="440.5" x2="458.6" y2="440.5" stroke="#BFBFBF" stroke-width="1"/>
<line x1="330.9" y1="410.5" x2="458.6" y2="410.5" stroke="#BFBFBF" stroke-width="1"/>
<line x1="330.9" y1="380.5" x2="458.6" y2="380.5" stroke="#BFBFBF" stroke-width="1"/>
<line x1="330.9" y1="350.5" x2="458.6" y2="350.5" stroke="#595959" stroke-width="1"/>
<line x1="326.6" y1="559.2" x2="330.9" y2="559.2" stroke="#000" stroke-width="1"/>
<text x="322.8" y="563.3" font-size="11.6" text-anchor="end">0.0</text>
<line x1="326.6" y1="529.5" x2="330.9" y2="529.5" stroke="#000" stroke-width="1"/>
<text x="322.8" y="533.6" font-size="11.6" text-anchor="end">0.2</text>
<line x1="326.6" y1="499.5" x2="330.9" y2="499.5" stroke="#000" stroke-width="1"/>
<text x="322.8" y="503.6" font-size="11.6" text-anchor="end">0.4</text>
<line x1="326.6" y1="470.5" x2="330.9" y2="470.5" stroke="#000" stroke-width="1"/>
<text x="322.8" y="474.6" font-size="11.6" text-anchor="end">0.6</text>
<line x1="326.6" y1="440.5" x2="330.9" y2="440.5" stroke="#000" stroke-width="1"/>
<text x="322.8" y="444.6" font-size="11.6" text-anchor="end">0.8</text>
<line x1="326.6" y1="410.5" x2="330.9" y2="410.5" stroke="#000" stroke-width="1"/>
<text x="322.8" y="414.6" font-size="11.6" text-anchor="end">1.0</text>
<line x1="326.6" y1="380.5" x2="330.9" y2="380.5" stroke="#000" stroke-width="1"/>
<text x="322.8" y="384.6" font-size="11.6" text-anchor="end">1.2</text>
<line x1="326.6" y1="350.5" x2="330.9" y2="350.5" stroke="#000" stroke-width="1"/>
<text x="322.8" y="354.6" font-size="11.6" text-anchor="end">1.4</text>
<line x1="330.9" y1="350" x2="330.9" y2="559.9" stroke="#000" stroke-width="1.3"/>
<rect x="341.3" y="558.2" width="9" height="1" fill="#00B0F0"/>
<rect x="360.76" y="410.4" width="9" height="148.8" fill="#00B0F0"/>
<rect x="380.22" y="421.8" width="9" height="137.4" fill="#00B0F0"/>
<rect x="399.68" y="449" width="9" height="110.2" fill="#00B0F0"/>
<rect x="419.14" y="470.7" width="9" height="88.5" fill="#00B0F0"/>
<rect x="438.6" y="520.9" width="9" height="38.3" fill="#00B0F0"/>
<circle cx="345.8" cy="558" r="0.9" fill="#111"/>
<line x1="365.26" y1="410.4" x2="365.26" y2="397.2" stroke="#333" stroke-width="0.8"/>
<line x1="363.96" y1="397.2" x2="366.56" y2="397.2" stroke="#333" stroke-width="0.8"/>
<circle cx="365.26" cy="389.8" r="1.05" fill="#111"/>
<circle cx="365.26" cy="419.2" r="1.05" fill="#111"/>
<circle cx="365.26" cy="410.6" r="1.05" fill="#111"/>
<line x1="384.72" y1="421.8" x2="384.72" y2="417.6" stroke="#333" stroke-width="0.8"/>
<line x1="383.42" y1="417.6" x2="386.02" y2="417.6" stroke="#333" stroke-width="0.8"/>
<circle cx="384.72" cy="407.8" r="1.05" fill="#111"/>
<circle cx="384.72" cy="423.3" r="1.05" fill="#111"/>
<circle cx="384.72" cy="425.4" r="1.05" fill="#111"/>
<line x1="404.18" y1="449" x2="404.18" y2="438.3" stroke="#333" stroke-width="0.8"/>
<line x1="402.88" y1="438.3" x2="405.48" y2="438.3" stroke="#333" stroke-width="0.8"/>
<circle cx="404.18" cy="416.3" r="1.05" fill="#111"/>
<circle cx="404.18" cy="458.4" r="1.05" fill="#111"/>
<circle cx="404.18" cy="460" r="1.05" fill="#111"/>
<line x1="423.64" y1="470.7" x2="423.64" y2="462.5" stroke="#333" stroke-width="0.8"/>
<line x1="422.34" y1="462.5" x2="424.94" y2="462.5" stroke="#333" stroke-width="0.8"/>
<circle cx="423.64" cy="445.8" r="1.05" fill="#111"/>
<circle cx="423.64" cy="474.6" r="1.05" fill="#111"/>
<circle cx="423.64" cy="477.6" r="1.05" fill="#111"/>
<line x1="443.1" y1="520.9" x2="443.1" y2="516.2" stroke="#333" stroke-width="0.8"/>
<line x1="441.8" y1="516.2" x2="444.4" y2="516.2" stroke="#333" stroke-width="0.8"/>
<circle cx="443.1" cy="515.4" r="1.05" fill="#111"/>
<circle cx="443.1" cy="519.4" r="1.05" fill="#111"/>
<circle cx="443.1" cy="522.6" r="1.05" fill="#111"/>
<line x1="326.6" y1="559.2" x2="457.6" y2="559.2" stroke="#000" stroke-width="1.4"/>
<path d="M365.3,389.8 V373.4 H404.5 V433.1" stroke="#333" stroke-width="0.8" fill="none"/>
<path d="M365.3,385.3 H384.9 V407.6" stroke="#333" stroke-width="0.8" fill="none"/>
<path d="M384.9,405.3 H404.5" stroke="#333" stroke-width="0.8" fill="none"/>
<path d="M404.5,427.7 H423.6 V456.8" stroke="#333" stroke-width="0.8" fill="none"/>
<text x="359.6" y="371" font-size="7.8" fill="#222">P* = 0.028191</text>
<text x="359" y="383.4" font-size="7.8" fill="#222">P &gt; 0.068</text>
<text x="378" y="402.3" font-size="7.8" fill="#222">P &gt; 0.102</text>
<text x="406" y="424.4" font-size="7.8" fill="#222">P* = 0.023137</text>
<text x="317.2" y="575.8" font-size="11.4">Teb</text>
<rect x="342.9" y="569.4" width="5" height="1.5" fill="#111"/>
<rect x="361.2" y="569.5" width="8" height="1.5" fill="#111"/>
<rect x="364.45" y="566" width="1.5" height="8.4" fill="#111"/>
<line x1="381.3" y1="565.1" x2="448" y2="565.1" stroke="#555" stroke-width="1.1"/>
<text x="412.5" y="577.6" font-size="10.5" text-anchor="middle">Wash out</text>
<text x="354.8" y="587.9" font-size="10.6" text-anchor="end" transform="rotate(-52 354.8 587.9)">36 hpf</text>
<text x="374.26" y="587.9" font-size="10.6" text-anchor="end" transform="rotate(-52 374.26 587.9)">36 hpf</text>
<text x="393.72" y="587.9" font-size="10.6" text-anchor="end" transform="rotate(-52 393.72 587.9)">48 hpf</text>
<text x="413.18" y="587.9" font-size="10.6" text-anchor="end" transform="rotate(-52 413.18 587.9)">60 hpf</text>
<text x="432.64" y="587.9" font-size="10.6" text-anchor="end" transform="rotate(-52 432.64 587.9)">72 hpf</text>
<text x="452.1" y="587.9" font-size="10.6" text-anchor="end" transform="rotate(-52 452.1 587.9)">96 hpf</text>
<text x="300.2" y="456.4" font-size="11.5" text-anchor="middle" transform="rotate(-90 300.2 456.4)"><tspan font-style="italic">ZsGreen</tspan> mRNA level</text>
<text x="478.8" y="356.9" font-size="24" font-weight="bold">f</text>
<line x1="545.5" y1="526.5" x2="679.5" y2="526.5" stroke="#BFBFBF" stroke-width="1"/>
<line x1="545.5" y1="491.5" x2="679.5" y2="491.5" stroke="#BFBFBF" stroke-width="1"/>
<line x1="545.5" y1="456.5" x2="679.5" y2="456.5" stroke="#BFBFBF" stroke-width="1"/>
<line x1="545.5" y1="421.5" x2="679.5" y2="421.5" stroke="#BFBFBF" stroke-width="1"/>
<line x1="545.5" y1="386.5" x2="679.5" y2="386.5" stroke="#BFBFBF" stroke-width="1"/>
<line x1="545.5" y1="351.5" x2="679.5" y2="351.5" stroke="#595959" stroke-width="1"/>
<line x1="541.6" y1="561.2" x2="545.5" y2="561.2" stroke="#000" stroke-width="1"/>
<text x="537.6" y="565.3" font-size="11.6" text-anchor="end">0</text>
<line x1="541.6" y1="526.5" x2="545.5" y2="526.5" stroke="#000" stroke-width="1"/>
<text x="537.6" y="530.6" font-size="11.6" text-anchor="end">500</text>
<line x1="541.6" y1="491.5" x2="545.5" y2="491.5" stroke="#000" stroke-width="1"/>
<text x="537.6" y="495.6" font-size="11.6" text-anchor="end">1000</text>
<line x1="541.6" y1="456.5" x2="545.5" y2="456.5" stroke="#000" stroke-width="1"/>
<text x="537.6" y="460.6" font-size="11.6" text-anchor="end">1500</text>
<line x1="541.6" y1="421.5" x2="545.5" y2="421.5" stroke="#000" stroke-width="1"/>
<text x="537.6" y="425.6" font-size="11.6" text-anchor="end">2000</text>
<line x1="541.6" y1="386.5" x2="545.5" y2="386.5" stroke="#000" stroke-width="1"/>
<text x="537.6" y="390.6" font-size="11.6" text-anchor="end">2500</text>
<line x1="541.6" y1="351.5" x2="545.5" y2="351.5" stroke="#000" stroke-width="1"/>
<text x="537.6" y="355.6" font-size="11.6" text-anchor="end">3000</text>
<line x1="545.5" y1="351" x2="545.5" y2="561.9" stroke="#000" stroke-width="1.3"/>
<rect x="620.2" y="499.4" width="6.8" height="61.8" fill="#00B0F0"/>
<rect x="642.6" y="398.4" width="7.2" height="162.8" fill="#C00000"/>
<rect x="665" y="382.8" width="7" height="178.4" fill="#00B0F0"/>
<line x1="623.6" y1="499.4" x2="623.6" y2="497.4" stroke="#111" stroke-width="0.9"/>
<line x1="622.4" y1="497.4" x2="624.8" y2="497.4" stroke="#111" stroke-width="0.9"/>
<circle cx="623.6" cy="497.8" r="1.05" fill="#111"/>
<circle cx="623.6" cy="499.8" r="1.05" fill="#111"/>
<line x1="646.2" y1="398.4" x2="646.2" y2="387.9" stroke="#444" stroke-width="0.7"/>
<line x1="645" y1="387.9" x2="647.4" y2="387.9" stroke="#444" stroke-width="0.7"/>
<circle cx="646.2" cy="400.4" r="1.05" fill="#111"/>
<circle cx="646.2" cy="402" r="1.05" fill="#111"/>
<line x1="668.5" y1="382.8" x2="668.5" y2="379.8" stroke="#111" stroke-width="0.9"/>
<line x1="667.3" y1="379.8" x2="669.7" y2="379.8" stroke="#111" stroke-width="0.9"/>
<circle cx="668.5" cy="380.6" r="1.05" fill="#111"/>
<circle cx="668.5" cy="382.6" r="1.05" fill="#111"/>
<circle cx="557.3" cy="560.6" r="0.9" fill="#111"/>
<circle cx="578.9" cy="560.6" r="0.9" fill="#111"/>
<circle cx="602.1" cy="560.6" r="0.9" fill="#111"/>
<line x1="541.6" y1="561.2" x2="679.5" y2="561.2" stroke="#000" stroke-width="1.4"/>
<path d="M646.7,376.5 V369.3 H668.0 V376.5" stroke="#555" stroke-width="0.8" fill="none"/>
<text x="636.4" y="365.4" font-size="9.4" fill="#222">P &gt; 0.069</text>
<rect x="555.3" y="355.9" width="11.4" height="10.9" fill="#C00000"/>
<rect x="555.3" y="371.9" width="11.4" height="10.9" fill="#00B0F0"/>
<text x="571" y="366.1" font-size="12.3">Teb</text>
<text x="571" y="381.5" font-size="12.3">Teb</text>
<rect x="595.5" y="360.7" width="4.3" height="1.4" fill="#111"/>
<rect x="594.2" y="376.5" width="7" height="1.4" fill="#111"/>
<rect x="597" y="373.2" width="1.4" height="7.7" fill="#111"/>
<line x1="553.2" y1="568.1" x2="582.4" y2="568.1" stroke="#555" stroke-width="1.1"/>
<line x1="597.8" y1="568.1" x2="626.9" y2="568.1" stroke="#555" stroke-width="1.1"/>
<line x1="642.6" y1="568.1" x2="671.8" y2="568.1" stroke="#555" stroke-width="1.1"/>
<text x="535.6" y="583.5" font-size="11.4" text-anchor="end">Driver</text>
<text x="567.8" y="583.5" font-size="11.4" text-anchor="middle">Mock</text>
<text x="611.5" y="583.5" font-size="11.4" text-anchor="middle">3</text>
<text x="656.6" y="583.5" font-size="11.4" text-anchor="middle">10</text>
<path d="M553.5,590.8 V597.0 H670.7 V590.8" stroke="#000" stroke-width="1.2" fill="none"/>
<text x="610.5" y="610.5" font-size="11.5" text-anchor="middle">+ Effector</text>
<text x="488.4" y="458.2" font-size="11.5" text-anchor="middle" transform="rotate(-90 488.4 458.2)">Luciferase activity</text>
<text x="503.4" y="458.4" font-size="11.5" text-anchor="middle" transform="rotate(-90 503.4 458.4)">(Fold change relative to mock control)</text>
</svg>
</body></html>
